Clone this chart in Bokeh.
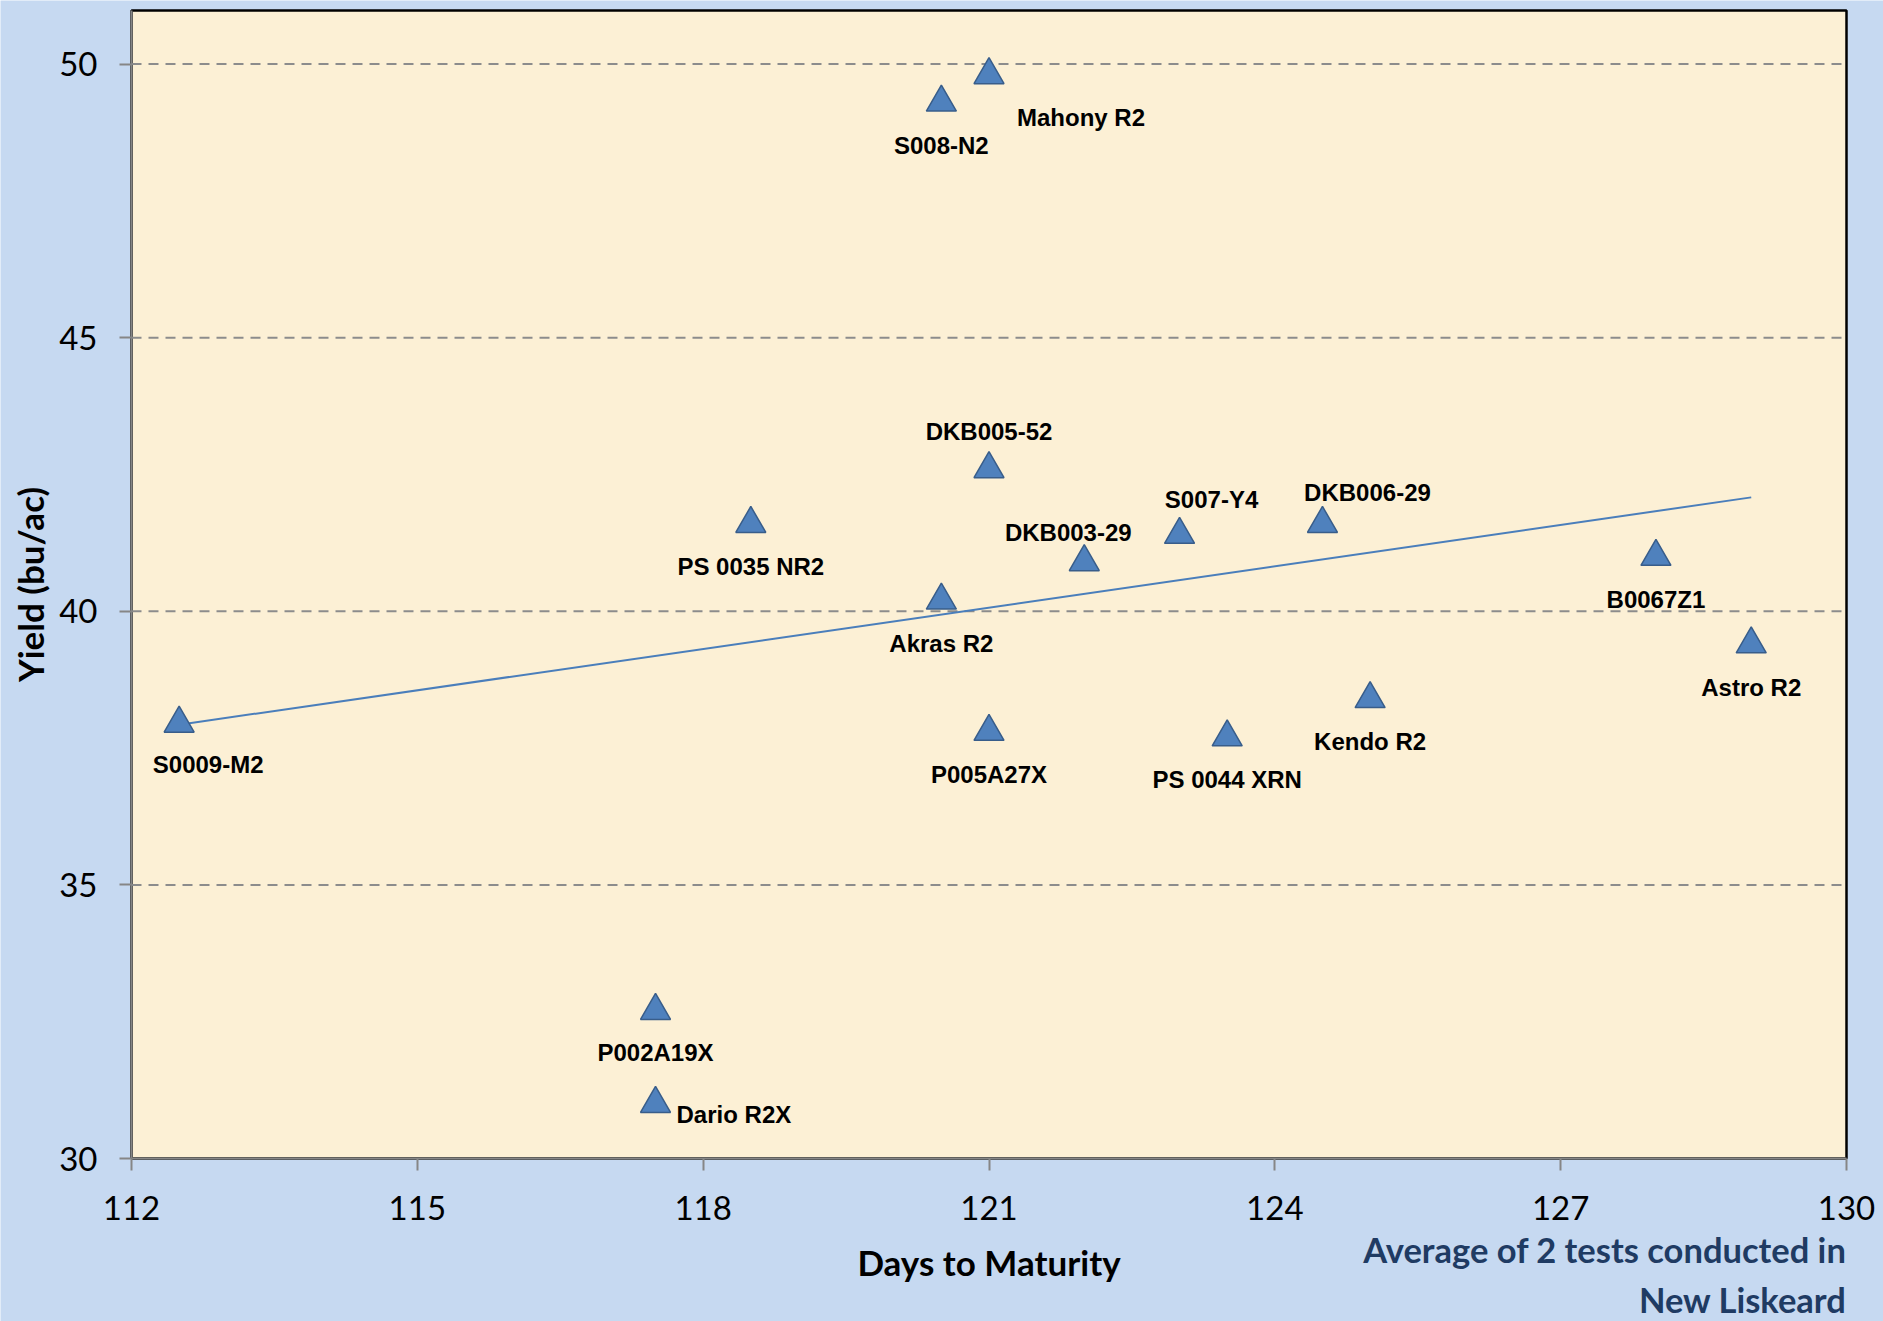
import math
from bokeh.plotting import figure
from bokeh.models import ColumnDataSource, Range1d, FixedTicker, BoxAnnotation
from bokeh.core.properties import value
from bokeh.embed import file_html
from bokeh.resources import INLINE
import numpy as np

# ---- data ----
varieties = ["S0009-M2", "Dario R2X", "P002A19X", "PS 0035 NR2", "Akras R2", "S008-N2",
             "Mahony R2", "DKB005-52", "P005A27X", "DKB003-29", "S007-Y4", "PS 0044 XRN",
             "DKB006-29", "Kendo R2", "B0067Z1", "Astro R2"]
days = [112.5, 117.5, 117.5, 118.5, 120.5, 120.5, 121.0, 121.0, 121.0, 122.0, 123.0, 123.5,
        124.5, 125.0, 128.0, 129.0]
yields = [37.95, 31.0, 32.7, 41.6, 40.2, 49.3, 49.8, 42.6, 37.8, 40.9, 41.4, 37.7,
          41.6, 38.4, 41.0, 39.4]
x_ticks = [112, 115, 118, 121, 124, 127, 130]
y_ticks = [30, 35, 40, 45, 50]
x_title = "Days to Maturity"
y_title = "Yield (bu/ac)"
note_lines = ["Average of 2 tests conducted in", "New Liskeard"]

# label placement (pixels relative to each point)
label_dx = [29, 21, 0, 0, 0, 0, 28, 0, 0, -16, 32, 0, 45, 0, 0, 0]
label_dy = [41, 11, 42, 43, 43, 43, 42, -38, 43, -30, -35, 42, -31, 43, 43, 43]
label_align = ["center", "left", "center", "center", "center", "center", "left", "center",
               "center", "center", "center", "center", "center", "center", "center", "center"]

# ---- layout (page pixels) ----
FIG_W, FIG_H = 1883, 1321
PLOT_L, PLOT_T, PLOT_R, PLOT_B = 131, 10, 1846, 1158
X0, X1 = 112, 130
Y0, Y1 = 30, 50.98
px_x = (PLOT_R - PLOT_L) / (X1 - X0)
px_y = (PLOT_B - PLOT_T) / (Y1 - Y0)
x_start = X0 - PLOT_L / px_x
x_end = X1 + (FIG_W - PLOT_R) / px_x
y_start = Y0 - (FIG_H - PLOT_B) / px_y
y_end = Y1 + PLOT_T / px_y

PAGE_BG = "#C6D9F1"
PLOT_BG = "#FCF0D5"
MARK_FILL = "#4F81BD"
MARK_LINE = "#385D8A"
NOTE_COLOR = "#1F3B63"
AXIS_GRAY = "#868686"

p = figure(width=FIG_W, height=FIG_H, output_backend="svg", toolbar_location=None,
           x_range=Range1d(x_start, x_end), y_range=Range1d(y_start, y_end),
           min_border_left=0, min_border_right=0, min_border_top=0, min_border_bottom=0)
p.background_fill_color = PAGE_BG
p.border_fill_color = PAGE_BG
p.outline_line_color = None
p.xgrid.grid_line_color = None
p.ygrid.grid_line_color = None

# plot area (beige with black border)
p.add_layout(BoxAnnotation(left=X0, right=X1, bottom=Y0, top=Y1, fill_color=PLOT_BG,
                           fill_alpha=1, line_color="black", line_alpha=1, line_width=2.5,
                           level="image"))

# horizontal dashed gridlines at the y ticks (within the plot area)
grid_y = y_ticks[1:]
p.segment(x0=[X0] * len(grid_y), x1=[X1] * len(grid_y), y0=grid_y, y1=grid_y,
          line_color="#8C8C8C", line_width=2, line_dash="10 7")

# trendline (least squares)
xs = np.array(days)
ys = np.array(yields)
m, b = np.polyfit(xs, ys, 1)
tx = [xs.min(), xs.max()]
ty = [m * tx[0] + b, m * tx[1] + b]
p.line(tx, ty, line_color="#4A7EBB", line_width=2)

src = ColumnDataSource(dict(x=days, y=yields, name=varieties, dx=label_dx, dy=label_dy,
                            align=label_align))
p.scatter("x", "y", source=src, marker="triangle", size=30, fill_color=MARK_FILL,
          line_color=MARK_LINE, line_width=1.5)
p.text("x", "y", text="name", source=src, x_offset="dx", y_offset="dy", text_align="align",
       text_baseline="middle", text_font=value("Liberation Sans"), text_font_style="bold",
       text_font_size="24px", text_color="black")

# axes (drawn at the plot-area edges)
for ax in (p.xaxis[0], p.yaxis[0]):
    ax.axis_line_color = AXIS_GRAY
    ax.axis_line_width = 2
    ax.major_tick_line_color = AXIS_GRAY
    ax.major_tick_line_width = 2
    ax.major_tick_out = 12
    ax.major_tick_in = 0
    ax.minor_tick_line_color = None
    ax.major_label_text_font = "Lato"
    ax.major_label_text_font_size = "33px"
    ax.major_label_text_color = "black"

p.xaxis.ticker = FixedTicker(ticks=x_ticks)
p.yaxis.ticker = FixedTicker(ticks=y_ticks)
p.xaxis.fixed_location = Y0
p.yaxis.fixed_location = X0
p.xaxis.bounds = (X0, X1)
p.yaxis.bounds = (Y0, Y1)
p.xaxis.major_label_standoff = 25
p.yaxis.major_label_standoff = 22

# axis titles and footnote (anchored to the plot-area edges)
p.text(x=[(X0 + X1) / 2], y=[Y0], text=[x_title], y_offset=[103], text_align="center",
       text_baseline="middle", text_font=value("Lato"), text_font_style="bold",
       text_font_size="35px", text_color="black")
p.text(x=[X0], y=[(Y0 + Y1) / 2], text=[y_title], x_offset=[-102], angle=math.pi / 2,
       text_align="center", text_baseline="middle", text_font=value("Lato"),
       text_font_style="bold", text_font_size="35px", text_color="black")
p.text(x=[X1, X1], y=[Y0, Y0], text=note_lines, y_offset=[91, 141], text_align="right",
       text_baseline="middle", text_font=value("Lato"), text_font_style="bold",
       text_font_size="34.5px", text_color=NOTE_COLOR)

html = file_html(p, INLINE)
html = html.replace("<body>", '<body style="background:%s">' % PAGE_BG, 1)
open("out.html", "w").write(html)
